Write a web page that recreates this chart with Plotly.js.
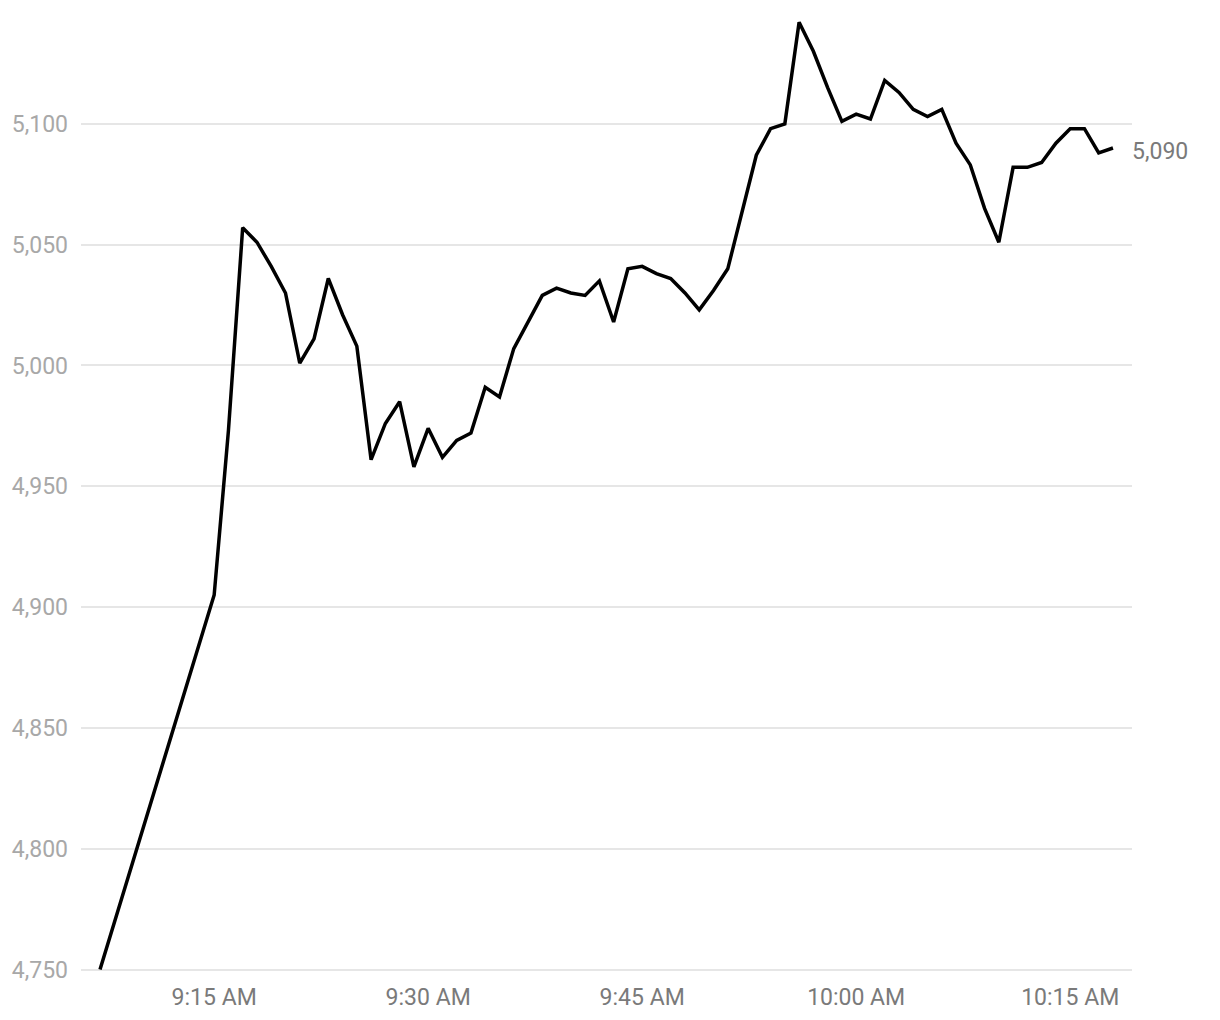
<!DOCTYPE html>
<html>
<head>
<meta charset="utf-8">
<script src="https://cdn.plot.ly/plotly-3.0.1.min.js"></script>
<style>
  html, body { margin: 0; padding: 0; background: #fff; }
  #chart { width: 1220px; height: 1020px; }
</style>
</head>
<body>
<div id="chart"></div>
<script>
// minute-by-minute index level
const DAY = '2024-03-01';
const times = [
  '09:07', '09:15', '09:16', '09:17', '09:18', '09:19', '09:20', '09:21', '09:22', '09:23',
  '09:24', '09:25', '09:26', '09:27', '09:28', '09:29', '09:30', '09:31', '09:32', '09:33',
  '09:34', '09:35', '09:36', '09:37', '09:38', '09:39', '09:40', '09:41', '09:42', '09:43',
  '09:44', '09:45', '09:46', '09:47', '09:48', '09:49', '09:50', '09:51', '09:52', '09:53',
  '09:54', '09:55', '09:56', '09:57', '09:58', '09:59', '10:00', '10:01', '10:02', '10:03',
  '10:04', '10:05', '10:06', '10:07', '10:08', '10:09', '10:10', '10:11', '10:12', '10:13',
  '10:14', '10:15', '10:16', '10:17', '10:18'
];
const levels = [
  4750, 4905, 4973, 5057, 5051, 5041, 5030, 5001, 5011, 5036,
  5021, 5008, 4961, 4976, 4985, 4958, 4974, 4962, 4969, 4972,
  4991, 4987, 5007, 5018, 5029, 5032, 5030, 5029, 5035, 5018,
  5040, 5041, 5038, 5036, 5030, 5023, 5031, 5040, 5064, 5087,
  5098, 5100, 5142, 5130, 5115, 5101, 5104, 5102, 5118, 5113,
  5106, 5103, 5106, 5092, 5083, 5065, 5051, 5082, 5082, 5084,
  5092, 5098, 5098, 5088, 5090
];
const yTicks = [4750, 4800, 4850, 4900, 4950, 5000, 5050, 5100];

const xs = times.map(t => `${DAY} ${t}:00`);
const lastX = xs[xs.length - 1];
const lastY = levels[levels.length - 1];

const trace = {
  x: xs, y: levels, type: 'scatter', mode: 'lines',
  line: { color: '#000', width: 3.5 },
  hoverinfo: 'skip'
};

const layout = {
  width: 1220, height: 1020,
  paper_bgcolor: '#fff', plot_bgcolor: '#fff',
  margin: { l: 81, r: 88, t: 3, b: 48 },
  font: { family: 'Roboto, sans-serif', size: 23, color: '#777' },
  showlegend: false,
  xaxis: {
    type: 'date',
    range: [`${DAY} 09:05:40`, `${DAY} 10:19:20`],
    tick0: `${DAY} 09:00:00`, dtick: 15 * 60 * 1000,
    tickformat: '%-I:%M %p',
    showgrid: false, zeroline: false, showline: false,
    ticks: '', ticklabelstandoff: 9,
    tickfont: { family: 'Roboto, sans-serif', size: 23, color: '#7a7a7a' }
  },
  yaxis: {
    // a hair below 4,750 so its grid line is still drawn at the bottom edge
    range: [4749, 5150],
    tickmode: 'array', tickvals: yTicks,
    tickformat: ',d',
    showgrid: true, gridcolor: '#e6e6e6', gridwidth: 2,
    zeroline: false, showline: false,
    ticks: '', ticklabelstandoff: 12,
    tickfont: { family: 'Roboto, sans-serif', size: 23, color: '#a8a8a8' }
  },
  annotations: [{
    x: lastX, y: lastY, xref: 'x', yref: 'y',
    text: lastY.toLocaleString('en-US'),
    showarrow: false, xanchor: 'left', yanchor: 'middle',
    xshift: 17, yshift: -4,
    font: { family: 'Roboto, sans-serif', size: 23, color: '#7a7a7a' }
  }]
};

Plotly.newPlot('chart', [trace], layout, { displayModeBar: false, staticPlot: true });
</script>
</body>
</html>
